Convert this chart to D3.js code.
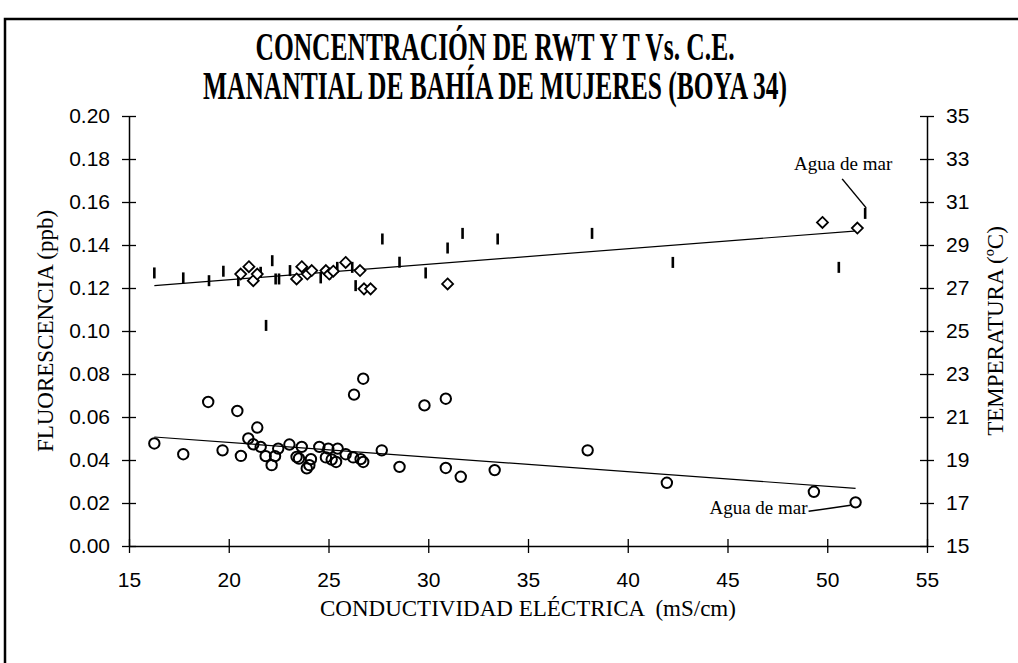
<!DOCTYPE html>
<html>
<head>
<meta charset="utf-8">
<script src="https://cdn.jsdelivr.net/npm/d3@7"></script>
<style>
  body { margin: 0; background: #fff; }
</style>
</head>
<body>
<div id="c1"></div>
<script>
// Data
var ceRwt = [16.27, 17.72, 18.97, 19.69, 20.43, 20.61, 20.98, 21.23, 21.43, 21.60, 21.85, 22.15, 22.32, 22.48, 23.04,
  23.40, 23.52, 23.66, 23.91, 24.04, 24.12, 24.54, 24.87, 24.99, 25.16, 25.38, 25.46, 25.86, 26.28, 26.74,
  26.24, 26.61, 26.74, 27.67, 28.56, 29.81, 30.88, 30.88, 31.63, 33.33, 37.99, 41.96, 49.33, 51.42];
var rwt = [0.0477, 0.0427, 0.0670, 0.0445, 0.0628, 0.0419, 0.0500, 0.0473, 0.0551, 0.0461, 0.0418, 0.0376, 0.0418, 0.0453, 0.0472,
  0.0414, 0.0407, 0.0461, 0.0361, 0.0376, 0.0404, 0.0461, 0.0412, 0.0453, 0.0402, 0.0391, 0.0453, 0.0427, 0.0704, 0.0778,
  0.0412, 0.0404, 0.0391, 0.0445, 0.0368, 0.0654, 0.0685, 0.0363, 0.0322, 0.0353, 0.0445, 0.0294, 0.0252, 0.0203];

var ceTemp = [16.27, 17.72, 19.01, 19.73, 20.48, 21.60, 22.18, 21.87, 22.35, 22.52, 23.07, 24.61, 25.07, 25.44, 26.19,
  26.36, 27.70, 28.56, 29.87, 30.97, 31.72, 33.48, 38.21, 42.26, 50.58, 51.90];
var temp = [27.70, 27.47, 27.34, 27.78, 27.34, 27.73, 28.27, 25.26, 27.42, 27.42, 27.81, 27.47, 27.65, 27.96, 27.96,
  27.11, 29.28, 28.20, 27.70, 28.86, 29.54, 29.28, 29.54, 28.19, 27.96, 30.47];

var ceRombo = [20.60, 21.01, 21.23, 21.43, 23.40, 23.66, 23.94, 24.16, 24.87, 25.04, 25.24, 25.86, 26.58, 26.78, 27.11,
  30.97, 49.76, 51.51];
var tempRombo = [27.65, 27.99, 27.34, 27.65, 27.42, 27.99, 27.65, 27.81, 27.81, 27.65, 27.78, 28.19, 27.81, 26.96, 26.96,
  27.19, 30.05, 29.79];

// trend lines (end points)
var ceTendT = [16.27, 51.51];
var tendT = [27.11, 29.66];
var ceTendF = [16.27, 51.42];
var tendF = [0.0507, 0.0268];

var xTicks = [15, 20, 25, 30, 35, 40, 45, 50, 55];
var yTicks = [0, 0.02, 0.04, 0.06, 0.08, 0.10, 0.12, 0.14, 0.16, 0.18, 0.20];
var y2Ticks = [15, 17, 19, 21, 23, 25, 27, 29, 31, 33, 35];

var titulo = ["CONCENTRACIÓN DE RWT Y T Vs. C.E.", "MANANTIAL DE BAHÍA DE MUJERES (BOYA 34)"];

var W = 1018, H = 663;
var pLeft = 129, pRight = 927, pTop = 116, pBottom = 546;
var serif = "'Liberation Serif', 'Times New Roman', serif";
var sans = "'Liberation Sans', Arial, sans-serif";

function draw() {
    var svg = d3.select("#c1").append("svg")
        .attr("width", W)
        .attr("height", H);

    // outer frame (cut by the picture on right and bottom)
    svg.append("rect")
        .attr("x", 5).attr("y", 19)
        .attr("width", 1040).attr("height", 700)
        .attr("fill", "none")
        .attr("stroke", "#000")
        .attr("stroke-width", 2.5);

    // Scales
    var x = d3.scaleLinear().domain([15, 55]).range([pLeft, pRight]);
    var y = d3.scaleLinear().domain([0, 0.2]).range([pBottom, pTop]);
    var y2 = d3.scaleLinear().domain([15, 35]).range([pBottom, pTop]);

    // Title
    titulo.forEach(function (t, i) {
        svg.append("text")
            .attr("transform", "translate(495," + (60 + i * 38.5) + ") scale(1,1.55)")
            .attr("text-anchor", "middle")
            .attr("font-family", serif)
            .attr("font-weight", "bold")
            .attr("font-size", 25.5)
            .text(t);
    });

    // Axes
    var gx = svg.append("g")
        .attr("transform", "translate(0," + pBottom + ")")
        .call(d3.axisBottom(x).tickValues(xTicks).tickFormat(d3.format("d"))
            .tickSize(7).tickSizeOuter(0).tickPadding(19));
    gx.selectAll(".tick line").attr("y1", -7);

    var gy = svg.append("g")
        .attr("transform", "translate(" + pLeft + ",0)")
        .call(d3.axisLeft(y).tickValues(yTicks).tickFormat(d3.format(".2f"))
            .tickSize(7).tickSizeOuter(0).tickPadding(12));
    gy.selectAll(".tick line").attr("x1", 7);

    var gy2 = svg.append("g")
        .attr("transform", "translate(" + pRight + ",0)")
        .call(d3.axisRight(y2).tickValues(y2Ticks).tickFormat(d3.format("d"))
            .tickSize(7).tickSizeOuter(0).tickPadding(12));
    gy2.selectAll(".tick line").attr("x1", -7);

    svg.selectAll(".domain").attr("stroke", "#000").attr("stroke-width", 1.5);
    svg.selectAll(".tick line").attr("stroke", "#000").attr("stroke-width", 1.3);
    svg.selectAll(".tick text")
        .attr("font-family", sans)
        .attr("font-size", 21)
        .attr("fill", "#000");

    // Axis titles
    svg.append("text")
        .attr("x", 320).attr("y", 616)
        .attr("font-family", serif)
        .attr("font-size", 23)
        .attr("xml:space", "preserve")
        .text("CONDUCTIVIDAD ELÉCTRICA  (mS/cm)");

    svg.append("text")
        .attr("transform", "translate(53," + ((pTop + pBottom) / 2) + ") rotate(-90)")
        .attr("text-anchor", "middle")
        .attr("font-family", serif)
        .attr("font-size", 23)
        .text("FLUORESCENCIA (ppb)");

    svg.append("text")
        .attr("transform", "translate(1003," + ((pTop + pBottom) / 2) + ") rotate(-90)")
        .attr("text-anchor", "middle")
        .attr("font-family", serif)
        .attr("font-size", 23)
        .text("TEMPERATURA (ºC)");

    // Trend lines
    var tendTemp = ceTendT.map(function (d, i) { return [x(d), y2(tendT[i])]; });
    var tendRwt = ceTendF.map(function (d, i) { return [x(d), y(tendF[i])]; });
    [tendTemp, tendRwt].forEach(function (p) {
        svg.append("path")
            .attr("d", d3.line()(p))
            .attr("fill", "none")
            .attr("stroke", "#000")
            .attr("stroke-width", 1.2);
    });

    // Temperature bars
    svg.selectAll("rect.temp")
        .data(ceTemp)
        .enter()
        .append("rect")
        .attr("class", "temp")
        .attr("x", function (d) { return x(d) - 1.3; })
        .attr("y", function (d, i) { return y2(temp[i]) - 5.5; })
        .attr("width", 2.6)
        .attr("height", 11)
        .attr("fill", "#000");

    // Diamonds
    svg.selectAll("path.rombo")
        .data(ceRombo)
        .enter()
        .append("path")
        .attr("class", "rombo")
        .attr("transform", function (d, i) {
            return "translate(" + x(d) + "," + y2(tempRombo[i]) + ")";
        })
        .attr("d", "M0,-5.5L5.5,0L0,5.5L-5.5,0Z")
        .attr("fill", "#fff")
        .attr("stroke", "#000")
        .attr("stroke-width", 1.8);

    // RWT circles
    svg.selectAll("circle.rwt")
        .data(ceRwt)
        .enter()
        .append("circle")
        .attr("class", "rwt")
        .attr("cx", function (d) { return x(d); })
        .attr("cy", function (d, i) { return y(rwt[i]); })
        .attr("r", 5.2)
        .attr("fill", "none")
        .attr("stroke", "#000")
        .attr("stroke-width", 2);

    // Agua de mar labels
    var nT = ceTemp.length - 1;
    var bx = x(ceTemp[nT]), by = y2(temp[nT]) - 5.5;
    svg.append("line")
        .attr("x1", bx - 23).attr("y1", by - 29)
        .attr("x2", bx + 1).attr("y2", by)
        .attr("stroke", "#000").attr("stroke-width", 1.5);
    svg.append("text")
        .attr("x", bx - 22).attr("y", by - 38)
        .attr("text-anchor", "middle")
        .attr("font-family", serif)
        .attr("font-size", 19)
        .text("Agua de mar");

    var nF = ceRwt.length - 1;
    var cx = x(ceRwt[nF]), cy = y(rwt[nF]);
    svg.append("line")
        .attr("x1", cx - 47).attr("y1", cy + 9)
        .attr("x2", cx - 5).attr("y2", cy + 3)
        .attr("stroke", "#000").attr("stroke-width", 1.5);
    svg.append("text")
        .attr("x", cx - 48).attr("y", cy + 12)
        .attr("text-anchor", "end")
        .attr("font-family", serif)
        .attr("font-size", 19)
        .text("Agua de mar");
}

draw();
</script>
</body>
</html>
